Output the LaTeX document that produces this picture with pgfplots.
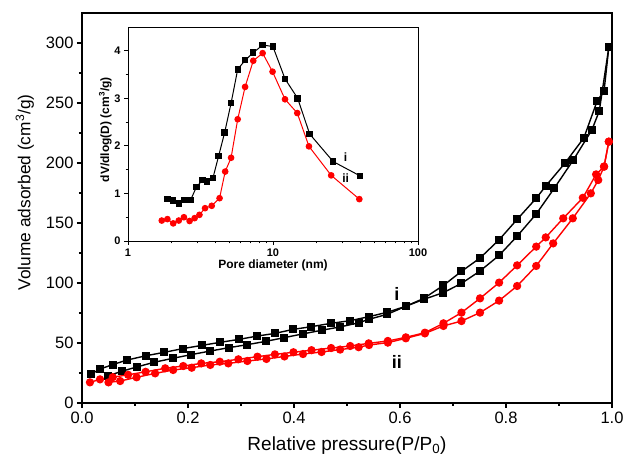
\documentclass[border=0pt]{standalone}
\usepackage{pgfplots}
\pgfplotsset{compat=1.18}
\usepackage{fontspec}
\setmainfont{Liberation Sans}
\definecolor{myred}{RGB}{255,0,0}
\begin{document}
\begin{tikzpicture}[x=1pt,y=1pt]
\path[use as bounding box] (0,0) rectangle (625,457);
\begin{axis}[
 at={(82pt,54pt)}, anchor=south west,
 scale only axis, width=530pt, height=390pt,
 xmin=0, xmax=1, ymin=0, ymax=325,
 xtick={0,0.2,0.4,0.6,0.8,1.0}, ytick={0,50,100,150,200,250,300},
 minor xtick={0.1,0.3,0.5,0.7,0.9}, minor ytick={25,75,125,175,225,275},
 tick pos=left, tick align=outside,
 major tick length=5pt, minor tick length=3pt,
 axis line style={line width=1.2pt},
 every tick/.style={line width=1.2pt, black},
 /pgf/number format/assume math mode=true,
 tick label style={font=\fontsize{16.5}{18}\selectfont},
 xticklabel style={/pgf/number format/fixed, /pgf/number format/fixed zerofill, /pgf/number format/precision=1},
 xlabel={Relative pressure(P/P\textsubscript{0})},
 ylabel={Volume adsorbed (cm\textsuperscript{3}/g)},
 xlabel style={font=\fontsize{19}{21}\selectfont, at={(axis description cs:0.5,-0.108)}, anchor=center},
 ylabel style={font=\fontsize{17.3}{19}\selectfont, at={(axis description cs:-0.108,0.54)}, anchor=center},
 clip=false,
]
% black branch A
\addplot[black, line width=1.4pt, mark=square*, mark size=3.3pt] coordinates {
(0.017,24)(0.034,28.3)(0.058,32)(0.085,35.8)(0.121,39.4)(0.155,42.2)(0.19,45.3)(0.226,48)(0.26,50.5)(0.296,53)(0.331,55.8)(0.364,58)(0.399,61.4)(0.433,63.6)(0.47,66.4)(0.506,68.6)(0.541,71.9)(0.576,75.6)(0.611,80.6)(0.645,87.2)(0.682,98)(0.716,109.7)(0.751,120.8)(0.787,136)(0.821,153)(0.857,170.6)(0.875,180.8)(0.911,199.7)(0.947,221)(0.972,251.7)(0.985,260)(0.994,296.4)};
% black branch B
\addplot[black, line width=1.4pt, mark=square*, mark size=3.3pt] coordinates {
(0.05,22.8)(0.075,26.4)(0.103,30)(0.136,33.9)(0.171,37.2)(0.206,40.3)(0.242,43.3)(0.277,46.1)(0.312,48.6)(0.347,51.4)(0.382,54.5)(0.417,57.6)(0.452,60.6)(0.487,63.4)(0.522,66.8)(0.541,69.7)(0.576,73.9)(0.611,80.6)(0.645,86.4)(0.682,92)(0.716,99.7)(0.751,110)(0.787,123)(0.821,139)(0.857,157.5)(0.891,178.9)(0.927,202.5)(0.962,227.5)(0.976,243.3)(0.994,296.4)};
% red branch A
\addplot[myred, line width=1.4pt, mark=*, mark size=3.4pt] coordinates {
(0.015,17.2)(0.034,19.7)(0.058,21.5)(0.087,23.5)(0.12,26)(0.157,28.9)(0.191,30.8)(0.225,33)(0.26,34.4)(0.295,36.4)(0.331,38.6)(0.364,40.5)(0.399,42.3)(0.433,44)(0.47,45.8)(0.506,47.5)(0.541,49.7)(0.577,51.7)(0.611,54.7)(0.647,58.6)(0.682,66.4)(0.716,75.3)(0.751,87.2)(0.787,100.3)(0.821,114.7)(0.857,130.3)(0.875,138)(0.908,153.9)(0.945,171)(0.970,190.5)(0.985,197)(0.994,217.8)};
% red branch B
\addplot[myred, line width=1.4pt, mark=*, mark size=3.4pt] coordinates {
(0.05,17.2)(0.072,18.3)(0.103,21.4)(0.138,24.7)(0.172,27.5)(0.207,29.4)(0.242,31.7)(0.276,33)(0.312,35)(0.348,36.7)(0.382,38.8)(0.417,40.8)(0.452,42.5)(0.487,44.5)(0.522,46.5)(0.5415,48.3)(0.577,50.3)(0.611,53.9)(0.647,58)(0.682,64.2)(0.716,68.3)(0.751,75.3)(0.787,85.3)(0.821,97.5)(0.857,114.2)(0.889,133)(0.926,153.9)(0.960,174.7)(0.974,185.8)(0.985,197)(0.994,217.8)};
\node[font=\bfseries\fontsize{18}{20}\selectfont] at (axis cs:0.594,91) {i};
\node[font=\bfseries\fontsize{18}{20}\selectfont] at (axis cs:0.594,34) {ii};
\end{axis}
\begin{axis}[
 at={(128pt,216pt)}, anchor=south west,
 scale only axis, width=290pt, height=214pt,
 xmode=log, xmin=1, xmax=100, ymin=0, ymax=4.5,
 xtick={1,10,100}, xticklabels={1,10,100},
 minor xtick={2,3,4,5,6,7,8,9,20,30,40,50,60,70,80,90},
 ytick={0,1,2,3,4}, minor ytick={0.5,1.5,2.5,3.5},
 tick pos=left, tick align=outside,
 major tick length=4pt, minor tick length=2.5pt,
 axis line style={line width=0.8pt},
 every tick/.style={line width=0.8pt, black},
 /pgf/number format/assume math mode=true,
 tick label style={font=\bfseries\fontsize{11}{13}\selectfont},
 xlabel={Pore diameter (nm)},
 ylabel={dV/dlog(D) (cm\textsuperscript{3}/g)},
 label style={font=\bfseries\fontsize{12}{14}\selectfont},
 xlabel style={at={(axis description cs:0.5,-0.112)}, anchor=center},
 ylabel style={at={(axis description cs:-0.078,0.52)}, anchor=center},
 clip=false,
]
\addplot[black, line width=1pt, mark=square*, mark size=2.7pt] coordinates {
(1.87,0.884)(2.05,0.85)(2.24,0.79)(2.43,0.86)(2.70,0.86)(2.96,1.13)(3.26,1.28)(3.52,1.25)(3.85,1.32)(4.22,1.79)(4.64,2.28)(5.14,2.9)(5.71,3.61)(6.42,3.8)(7.31,3.96)(8.48,4.12)(9.98,4.09)(12.1,3.41)(14.8,3.0)(17.9,2.25)(26.0,1.67)(39.8,1.37)};
\addplot[myred, line width=1pt, mark=*, mark size=2.8pt] coordinates {
(1.71,0.43)(1.87,0.46)(2.05,0.37)(2.24,0.43)(2.43,0.5)(2.66,0.42)(2.88,0.48)(3.11,0.55)(3.40,0.69)(3.78,0.74)(4.28,0.9)(4.68,1.46)(5.14,1.75)(5.71,2.56)(6.42,3.24)(7.31,3.79)(8.48,3.95)(9.93,3.56)(12.1,2.98)(14.7,2.69)(17.7,1.99)(25.2,1.38)(39.4,0.88)};
\node[font=\bfseries\fontsize{12}{14}\selectfont] at (axis cs:31.7,1.77) {i};
\node[font=\bfseries\fontsize{12}{14}\selectfont] at (axis cs:31.7,1.33) {ii};
\end{axis}
\end{tikzpicture}
\end{document}
